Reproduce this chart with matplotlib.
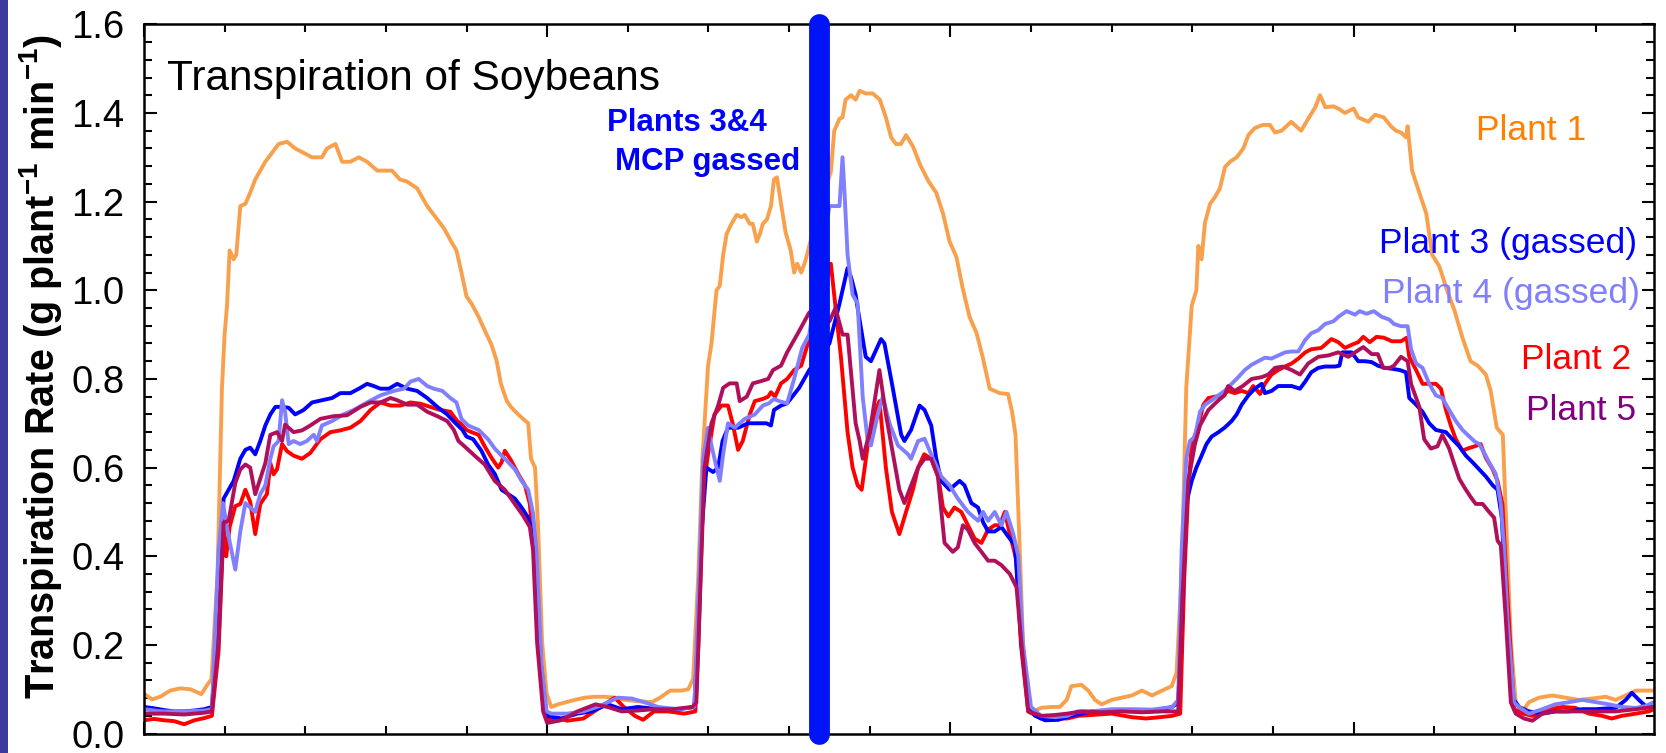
import numpy as np
import matplotlib
matplotlib.use('Agg')
import matplotlib.pyplot as plt
import matplotlib.ticker as mtick
from matplotlib.patches import Rectangle

plt.rcParams['font.family'] = 'Liberation Sans'
plt.rcParams['mathtext.fontset'] = 'custom'
plt.rcParams['mathtext.rm'] = 'Liberation Sans'
plt.rcParams['mathtext.bf'] = 'Liberation Sans:bold'
plt.rcParams['mathtext.default'] = 'regular'

# (hour, transpiration rate g plant^-1 min^-1)
plant1 = [(0, 0.09), (0.4, 0.077), (0.8, 0.083), (1.3, 0.097), (1.8, 0.102), (2.3, 0.10), (2.85, 0.089), (3.1, 0.107),
          (3.35, 0.123), (3.65, 0.36), (3.87, 0.78), (4.0, 0.90), (4.12, 0.965), (4.25, 1.09), (4.45, 1.07), (4.58, 1.08),
          (4.78, 1.19), (5.03, 1.195), (5.27, 1.22), (5.52, 1.25), (5.77, 1.27), (6.02, 1.29), (6.35, 1.31), (6.68, 1.33),
          (7.1, 1.335), (7.5, 1.32), (7.92, 1.31), (8.34, 1.30), (8.83, 1.30), (9.08, 1.32), (9.5, 1.33), (9.83, 1.29),
          (10.24, 1.29), (10.66, 1.30), (11.07, 1.29), (11.57, 1.27), (12.06, 1.27), (12.3, 1.27), (12.7, 1.25),
          (13.06, 1.245), (13.55, 1.23), (14.05, 1.19), (14.38, 1.17), (14.88, 1.14), (15.3, 1.105), (15.5, 1.09),
          (15.75, 1.04), (16.0, 0.986), (16.25, 0.97), (16.6, 0.94), (16.9, 0.91), (17.24, 0.877), (17.5, 0.84),
          (17.7, 0.79), (18.0, 0.75), (18.2, 0.737), (18.56, 0.72), (18.8, 0.71), (19.06, 0.70), (19.2, 0.62),
          (19.4, 0.60), (19.55, 0.466), (19.75, 0.206), (19.97, 0.09), (20.2, 0.06), (20.55, 0.066), (20.96, 0.071),
          (21.37, 0.076), (21.87, 0.081), (22.36, 0.083), (22.86, 0.083), (23.36, 0.081), (23.85, 0.076), (24.5, 0.073),
          (25.2, 0.071), (25.6, 0.081), (26.1, 0.097), (26.66, 0.097), (27.0, 0.10), (27.24, 0.123), (27.5, 0.36),
          (27.7, 0.62), (27.98, 0.83), (28.15, 0.88), (28.4, 1.0), (28.56, 1.01), (28.73, 1.08), (28.9, 1.127),
          (29.14, 1.15), (29.4, 1.17), (29.64, 1.165), (29.8, 1.17), (30.05, 1.15), (30.2, 1.15), (30.4, 1.11),
          (30.55, 1.127), (30.7, 1.15), (30.9, 1.16), (31.1, 1.19), (31.25, 1.25), (31.4, 1.255), (31.6, 1.195),
          (31.83, 1.13), (32.08, 1.09), (32.25, 1.04), (32.4, 1.06), (32.6, 1.04), (32.8, 1.065), (33.4, 1.17),
          (34.07, 1.267), (34.24, 1.36), (34.5, 1.387), (34.65, 1.39), (34.8, 1.43), (35.07, 1.44), (35.3, 1.43),
          (35.5, 1.45), (35.8, 1.444), (36.15, 1.444), (36.5, 1.43), (36.8, 1.39), (37.06, 1.345), (37.3, 1.33),
          (37.55, 1.33), (37.8, 1.35), (38.14, 1.325), (38.5, 1.283), (38.9, 1.247), (39.3, 1.22), (39.63, 1.174),
          (39.96, 1.11), (40.3, 1.075), (40.6, 1.007), (40.95, 0.94), (41.3, 0.903), (41.6, 0.85), (41.95, 0.778),
          (42.2, 0.773), (42.45, 0.768), (42.86, 0.766), (43.06, 0.726), (43.23, 0.674), (43.4, 0.466), (43.6, 0.206),
          (43.86, 0.071), (44.1, 0.05), (44.5, 0.058), (45.0, 0.06), (45.43, 0.06), (45.77, 0.076), (46.0, 0.107),
          (46.5, 0.11), (46.84, 0.097), (47.17, 0.076), (47.5, 0.066), (48.0, 0.076), (48.5, 0.081), (49.0, 0.086),
          (49.5, 0.097), (50.0, 0.086), (50.5, 0.097), (50.98, 0.107), (51.22, 0.138), (51.47, 0.36), (51.7, 0.78),
          (51.97, 0.965), (52.2, 1.0), (52.3, 1.10), (52.46, 1.07), (52.63, 1.153), (52.88, 1.195), (53.12, 1.21),
          (53.37, 1.23), (53.62, 1.278), (53.87, 1.29), (54.2, 1.30), (54.53, 1.32), (54.78, 1.35), (55.1, 1.366),
          (55.5, 1.373), (55.85, 1.373), (56.1, 1.356), (56.43, 1.36), (56.9, 1.38), (57.4, 1.36), (57.75, 1.387),
          (58.1, 1.413), (58.33, 1.44), (58.6, 1.413), (59.0, 1.415), (59.24, 1.41), (59.57, 1.40), (60.0, 1.41),
          (60.23, 1.39), (60.73, 1.38), (61.06, 1.396), (61.5, 1.39), (61.85, 1.37), (62.1, 1.36), (62.35, 1.356),
          (62.6, 1.345), (62.68, 1.37), (62.9, 1.27), (63.26, 1.22), (63.6, 1.174), (63.9, 1.08), (64.25, 1.054),
          (64.66, 0.997), (65.0, 0.955), (65.4, 0.893), (65.8, 0.84), (66.15, 0.83), (66.56, 0.81), (66.8, 0.773),
          (67.1, 0.69), (67.4, 0.674), (67.58, 0.466), (67.8, 0.206), (68.04, 0.071), (68.37, 0.05), (68.7, 0.071),
          (69.2, 0.081), (69.86, 0.086), (70.5, 0.081), (71.18, 0.076), (71.84, 0.079), (72.5, 0.083), (73.0, 0.076),
          (73.5, 0.086), (74.0, 0.097), (74.5, 0.097), (74.9, 0.097)]

plant2 = [(0, 0.03), (0.5, 0.033), (1.0, 0.03), (1.5, 0.028), (2.0, 0.021), (2.5, 0.03), (3.0, 0.035), (3.37, 0.04),
          (3.7, 0.185), (3.95, 0.466), (4.08, 0.40), (4.25, 0.466), (4.53, 0.513), (4.78, 0.518), (5.03, 0.55),
          (5.27, 0.523), (5.52, 0.45), (5.77, 0.518), (6.1, 0.54), (6.27, 0.61), (6.43, 0.585), (6.6, 0.596),
          (6.85, 0.653), (7.1, 0.637), (7.42, 0.627), (7.84, 0.62), (8.25, 0.633), (8.75, 0.664), (9.25, 0.68),
          (9.74, 0.684), (10.24, 0.69), (10.74, 0.705), (11.24, 0.73), (11.73, 0.747), (12.23, 0.74), (12.72, 0.74),
          (13.22, 0.747), (13.72, 0.744), (14.2, 0.737), (14.7, 0.73), (15.2, 0.726), (15.54, 0.705), (15.7, 0.70),
          (16.0, 0.685), (16.25, 0.68), (16.6, 0.674), (16.9, 0.648), (17.24, 0.622), (17.57, 0.60), (17.74, 0.612),
          (17.9, 0.638), (18.2, 0.617), (18.56, 0.586), (18.9, 0.56), (19.14, 0.518), (19.3, 0.435), (19.55, 0.258),
          (19.8, 0.07), (20.0, 0.03), (20.5, 0.035), (21.0, 0.029), (21.8, 0.034), (22.5, 0.055), (23.35, 0.081),
          (23.8, 0.06), (24.35, 0.04), (24.76, 0.031), (25.3, 0.05), (26.0, 0.05), (26.8, 0.045), (27.35, 0.05),
          (27.5, 0.2), (27.74, 0.55), (27.98, 0.63), (28.3, 0.72), (28.65, 0.74), (28.97, 0.74), (29.2, 0.70),
          (29.47, 0.64), (29.7, 0.66), (30.05, 0.72), (30.3, 0.75), (30.7, 0.755), (30.96, 0.76), (31.1, 0.77),
          (31.3, 0.76), (31.6, 0.79), (31.9, 0.80), (32.25, 0.82), (32.6, 0.83), (33.0, 0.89), (33.5, 0.98),
          (34.07, 1.06), (34.57, 0.85), (34.9, 0.68), (35.15, 0.60), (35.4, 0.56), (35.6, 0.55), (35.9, 0.65),
          (36.23, 0.72), (36.48, 0.75), (36.8, 0.60), (37.1, 0.50), (37.47, 0.45), (37.8, 0.50), (38.14, 0.55),
          (38.4, 0.60), (38.7, 0.63), (39.05, 0.62), (39.4, 0.58), (39.63, 0.51), (39.9, 0.49), (40.2, 0.51),
          (40.54, 0.50), (40.87, 0.47), (41.2, 0.44), (41.54, 0.43), (41.87, 0.46), (42.2, 0.47), (42.45, 0.47),
          (42.7, 0.50), (42.95, 0.45), (43.28, 0.39), (43.5, 0.20), (43.86, 0.05), (44.5, 0.034), (45.2, 0.034),
          (45.8, 0.034), (46.35, 0.04), (47.0, 0.042), (48.0, 0.045), (49.0, 0.037), (49.7, 0.034), (50.4, 0.037),
          (51.0, 0.04), (51.4, 0.045), (51.6, 0.35), (51.8, 0.55), (51.97, 0.653), (52.3, 0.695), (52.55, 0.742),
          (52.8, 0.757), (53.12, 0.76), (53.45, 0.763), (53.78, 0.773), (54.1, 0.768), (54.45, 0.773), (54.78, 0.768),
          (55.02, 0.784), (55.36, 0.766), (55.6, 0.789), (55.93, 0.81), (56.26, 0.82), (56.6, 0.828), (56.93, 0.835),
          (57.26, 0.846), (57.6, 0.86), (57.9, 0.867), (58.4, 0.87), (58.9, 0.89), (59.24, 0.883), (59.57, 0.87),
          (59.9, 0.877), (60.23, 0.883), (60.48, 0.895), (60.8, 0.883), (61.14, 0.895), (61.5, 0.893), (61.9, 0.885),
          (62.35, 0.885), (62.63, 0.893), (62.76, 0.85), (63.1, 0.82), (63.42, 0.789), (63.75, 0.789), (64.08, 0.789),
          (64.33, 0.778), (64.58, 0.73), (64.82, 0.695), (65.07, 0.664), (65.4, 0.638), (65.65, 0.643), (66.0, 0.648),
          (66.3, 0.653), (66.56, 0.622), (66.9, 0.596), (67.14, 0.57), (67.38, 0.518), (67.63, 0.31), (67.96, 0.055),
          (68.4, 0.045), (68.87, 0.04), (69.7, 0.055), (70.35, 0.06), (71.0, 0.058), (71.67, 0.045), (72.33, 0.04),
          (72.8, 0.034), (73.3, 0.04), (74.0, 0.045), (74.64, 0.05), (74.9, 0.055)]

plant3 = [(0, 0.06), (0.5, 0.057), (1.0, 0.053), (1.5, 0.05), (2.0, 0.05), (2.5, 0.052), (3.0, 0.055), (3.37, 0.06),
          (3.7, 0.26), (3.95, 0.53), (4.2, 0.55), (4.45, 0.57), (4.78, 0.62), (5.03, 0.64), (5.27, 0.645), (5.52, 0.63),
          (5.77, 0.66), (6.02, 0.695), (6.27, 0.72), (6.52, 0.737), (6.85, 0.737), (7.18, 0.735), (7.5, 0.72),
          (7.92, 0.73), (8.34, 0.747), (8.83, 0.752), (9.33, 0.757), (9.74, 0.768), (10.24, 0.768), (10.66, 0.778),
          (11.07, 0.789), (11.4, 0.784), (11.73, 0.778), (12.15, 0.778), (12.56, 0.789), (13.06, 0.778), (13.55, 0.773),
          (14.05, 0.757), (14.55, 0.737), (15.04, 0.72), (15.46, 0.70), (15.8, 0.685), (16.0, 0.67), (16.33, 0.664),
          (16.74, 0.638), (17.07, 0.607), (17.4, 0.586), (17.74, 0.55), (18.07, 0.54), (18.4, 0.53), (18.73, 0.51),
          (19.06, 0.487), (19.3, 0.445), (19.47, 0.36), (19.7, 0.154), (19.97, 0.04), (20.7, 0.034), (21.5, 0.045),
          (22.2, 0.05), (23.0, 0.066), (23.7, 0.055), (24.5, 0.06), (25.5, 0.055), (26.5, 0.055), (27.3, 0.06),
          (27.45, 0.2), (27.65, 0.45), (27.9, 0.60), (28.23, 0.59), (28.48, 0.60), (28.7, 0.66), (28.97, 0.69),
          (29.47, 0.69), (29.97, 0.70), (30.46, 0.70), (30.87, 0.70), (31.1, 0.695), (31.25, 0.73), (31.6, 0.74),
          (31.9, 0.745), (32.5, 0.78), (33.0, 0.82), (33.5, 0.85), (34.0, 0.88), (34.5, 0.97), (34.9, 1.05),
          (35.07, 1.03), (35.3, 0.99), (35.4, 0.96), (35.8, 0.85), (36.06, 0.84), (36.56, 0.89), (36.73, 0.88),
          (37.14, 0.78), (37.56, 0.674), (37.72, 0.66), (38.05, 0.685), (38.47, 0.74), (38.72, 0.73), (39.05, 0.695),
          (39.3, 0.62), (39.55, 0.57), (39.96, 0.55), (40.2, 0.56), (40.46, 0.57), (40.7, 0.56), (41.04, 0.52),
          (41.37, 0.51), (41.62, 0.477), (41.87, 0.456), (42.2, 0.456), (42.53, 0.466), (42.86, 0.445), (43.2, 0.425),
          (43.53, 0.2), (43.9, 0.06), (44.2, 0.04), (44.7, 0.03), (45.35, 0.031), (46.0, 0.04), (46.5, 0.045),
          (47.0, 0.05), (48.0, 0.05), (49.0, 0.052), (50.0, 0.05), (51.0, 0.06), (51.3, 0.07), (51.47, 0.26),
          (51.7, 0.52), (51.97, 0.57), (52.2, 0.60), (52.46, 0.627), (52.7, 0.653), (52.96, 0.67), (53.3, 0.68),
          (53.6, 0.69), (53.95, 0.705), (54.2, 0.72), (54.45, 0.742), (54.78, 0.763), (55.1, 0.778), (55.44, 0.789),
          (55.6, 0.768), (55.93, 0.773), (56.26, 0.784), (56.6, 0.784), (56.93, 0.784), (57.34, 0.778), (57.6, 0.794),
          (57.9, 0.815), (58.25, 0.825), (58.58, 0.828), (59.07, 0.828), (59.3, 0.83), (59.44, 0.86), (59.9, 0.86),
          (60.23, 0.84), (60.56, 0.84), (60.9, 0.838), (61.2, 0.83), (61.55, 0.825), (61.9, 0.823), (62.3, 0.82),
          (62.6, 0.815), (62.76, 0.757), (63.1, 0.742), (63.42, 0.726), (63.75, 0.70), (64.08, 0.685), (64.58, 0.68),
          (64.9, 0.664), (65.24, 0.648), (65.57, 0.627), (65.9, 0.612), (66.23, 0.596), (66.56, 0.58), (66.9, 0.56),
          (67.14, 0.55), (67.35, 0.487), (67.55, 0.31), (67.88, 0.081), (68.2, 0.06), (68.7, 0.05), (69.36, 0.045),
          (70.0, 0.05), (70.7, 0.05), (71.34, 0.055), (72.0, 0.055), (73.0, 0.058), (73.5, 0.076), (73.8, 0.092),
          (74.15, 0.076), (74.48, 0.062), (74.9, 0.06)]

plant4 = [(0, 0.055), (0.5, 0.052), (1.0, 0.05), (2.0, 0.05), (3.0, 0.052), (3.37, 0.055), (3.7, 0.41), (3.92, 0.52),
          (4.15, 0.456), (4.53, 0.37), (4.78, 0.456), (5.03, 0.52), (5.27, 0.51), (5.52, 0.50), (5.77, 0.54),
          (6.02, 0.56), (6.27, 0.62), (6.43, 0.648), (6.68, 0.66), (6.85, 0.752), (7.0, 0.726), (7.18, 0.653),
          (7.42, 0.66), (7.75, 0.653), (8.08, 0.66), (8.42, 0.674), (8.58, 0.66), (8.83, 0.695), (9.33, 0.705),
          (9.9, 0.72), (10.4, 0.73), (11.07, 0.747), (11.73, 0.763), (12.4, 0.773), (12.9, 0.778), (13.22, 0.794),
          (13.63, 0.80), (14.05, 0.784), (14.38, 0.778), (14.8, 0.773), (15.2, 0.757), (15.5, 0.747), (15.75, 0.71),
          (16.08, 0.695), (16.6, 0.685), (17.07, 0.664), (17.4, 0.643), (17.74, 0.627), (18.07, 0.612), (18.4, 0.596),
          (18.73, 0.57), (19.06, 0.55), (19.3, 0.497), (19.47, 0.414), (19.72, 0.154), (19.97, 0.05), (20.2, 0.045),
          (21.0, 0.045), (21.8, 0.05), (22.6, 0.062), (23.5, 0.081), (24.2, 0.079), (24.8, 0.071), (25.5, 0.06),
          (26.5, 0.055), (27.3, 0.06), (27.5, 0.30), (27.74, 0.62), (27.98, 0.69), (28.15, 0.65), (28.4, 0.60),
          (28.56, 0.57), (28.73, 0.63), (28.97, 0.70), (29.3, 0.69), (29.8, 0.71), (30.3, 0.72), (30.7, 0.74),
          (31.0, 0.745), (31.25, 0.755), (31.5, 0.75), (31.9, 0.745), (32.25, 0.80), (32.65, 0.87), (33.0, 0.90),
          (33.5, 1.05), (34.0, 1.19), (34.5, 1.19), (34.65, 1.30), (34.75, 1.22), (34.9, 1.08), (35.15, 0.99),
          (35.4, 0.97), (35.65, 0.76), (35.9, 0.66), (36.06, 0.65), (36.4, 0.72), (36.65, 0.76), (36.98, 0.70),
          (37.4, 0.65), (37.9, 0.63), (38.05, 0.62), (38.4, 0.66), (38.72, 0.665), (39.14, 0.62), (39.55, 0.58),
          (39.96, 0.56), (40.37, 0.53), (40.87, 0.50), (41.37, 0.48), (41.62, 0.50), (41.87, 0.48), (42.2, 0.50),
          (42.53, 0.47), (42.78, 0.50), (43.12, 0.45), (43.37, 0.40), (43.6, 0.2), (44.0, 0.06), (44.5, 0.04),
          (45.2, 0.037), (45.8, 0.04), (46.3, 0.05), (47.0, 0.05), (48.0, 0.055), (49.0, 0.055), (50.0, 0.054),
          (51.0, 0.06), (51.3, 0.076), (51.47, 0.414), (51.7, 0.62), (51.88, 0.66), (52.13, 0.67), (52.38, 0.726),
          (52.63, 0.742), (52.96, 0.752), (53.3, 0.763), (53.6, 0.773), (53.95, 0.789), (54.28, 0.804), (54.6, 0.82),
          (54.94, 0.832), (55.27, 0.84), (55.6, 0.848), (55.93, 0.846), (56.26, 0.853), (56.6, 0.86), (56.93, 0.862),
          (57.26, 0.862), (57.6, 0.888), (57.9, 0.903), (58.25, 0.91), (58.58, 0.924), (59.0, 0.93), (59.24, 0.94),
          (59.65, 0.953), (60.07, 0.945), (60.3, 0.953), (60.64, 0.947), (61.0, 0.953), (61.4, 0.94), (61.77, 0.934),
          (62.0, 0.924), (62.35, 0.919), (62.68, 0.919), (62.85, 0.867), (63.1, 0.835), (63.42, 0.825), (63.75, 0.789),
          (64.08, 0.763), (64.4, 0.757), (64.74, 0.73), (65.07, 0.705), (65.4, 0.685), (65.65, 0.674), (66.0, 0.659),
          (66.23, 0.653), (66.48, 0.633), (66.72, 0.612), (67.05, 0.586), (67.3, 0.518), (67.47, 0.414), (67.63, 0.258),
          (67.96, 0.07), (68.2, 0.06), (68.7, 0.045), (69.36, 0.055), (70.0, 0.066), (70.7, 0.071), (71.34, 0.076),
          (72.0, 0.071), (72.66, 0.066), (73.3, 0.06), (74.0, 0.058), (74.48, 0.062), (74.9, 0.071)]

plant5 = [(0, 0.045), (1.0, 0.045), (2.0, 0.043), (3.0, 0.047), (3.37, 0.05), (3.7, 0.206), (3.95, 0.476), (4.2, 0.48),
          (4.53, 0.565), (4.78, 0.596), (5.03, 0.607), (5.27, 0.60), (5.52, 0.54), (5.77, 0.575), (6.02, 0.61),
          (6.27, 0.674), (6.6, 0.68), (6.85, 0.66), (7.0, 0.697), (7.42, 0.68), (7.84, 0.684), (8.25, 0.695),
          (8.75, 0.71), (9.41, 0.716), (10.07, 0.718), (10.74, 0.737), (11.24, 0.747), (11.73, 0.747), (12.23, 0.757),
          (12.56, 0.752), (13.06, 0.742), (13.55, 0.742), (14.05, 0.726), (14.55, 0.716), (15.04, 0.705), (15.37, 0.685),
          (15.6, 0.66), (15.9, 0.648), (16.4, 0.627), (16.9, 0.607), (17.4, 0.57), (17.9, 0.55), (18.4, 0.518),
          (18.8, 0.492), (19.14, 0.466), (19.3, 0.414), (19.5, 0.206), (19.8, 0.05), (20.0, 0.024), (20.7, 0.03),
          (21.5, 0.05), (22.4, 0.066), (23.0, 0.06), (23.7, 0.05), (24.5, 0.052), (25.3, 0.055), (26.2, 0.055),
          (27.2, 0.06), (27.4, 0.07), (27.5, 0.2), (27.8, 0.6), (28.15, 0.70), (28.48, 0.74), (28.73, 0.78),
          (29.05, 0.79), (29.4, 0.79), (29.55, 0.75), (29.9, 0.76), (30.2, 0.79), (30.6, 0.795), (30.96, 0.80),
          (31.2, 0.82), (31.6, 0.83), (31.9, 0.86), (32.4, 0.90), (33.0, 0.95), (33.5, 0.96), (34.0, 0.93),
          (34.3, 0.96), (34.65, 0.90), (34.9, 0.90), (35.3, 0.70), (35.5, 0.66), (35.65, 0.62), (36.0, 0.68),
          (36.48, 0.82), (36.8, 0.72), (37.47, 0.55), (37.72, 0.52), (37.97, 0.55), (38.4, 0.60), (38.72, 0.62),
          (39.05, 0.62), (39.38, 0.58), (39.71, 0.43), (40.12, 0.41), (40.37, 0.42), (40.62, 0.47), (40.87, 0.46),
          (41.2, 0.43), (41.54, 0.41), (41.87, 0.39), (42.2, 0.39), (42.53, 0.38), (42.95, 0.36), (43.28, 0.33),
          (43.53, 0.2), (43.86, 0.05), (44.5, 0.04), (45.2, 0.042), (45.8, 0.045), (46.5, 0.05), (47.5, 0.048),
          (48.5, 0.05), (49.5, 0.048), (50.5, 0.05), (51.3, 0.05), (51.5, 0.3), (51.8, 0.57), (52.13, 0.653),
          (52.38, 0.695), (52.8, 0.73), (53.3, 0.752), (53.6, 0.763), (53.78, 0.784), (54.1, 0.773), (54.5, 0.784),
          (54.94, 0.80), (55.44, 0.804), (55.77, 0.81), (56.1, 0.825), (56.5, 0.828), (56.93, 0.82), (57.34, 0.81),
          (57.75, 0.835), (58.25, 0.85), (58.74, 0.853), (59.24, 0.86), (59.74, 0.85), (60.07, 0.86), (60.48, 0.872),
          (60.9, 0.856), (61.2, 0.856), (61.47, 0.825), (61.8, 0.825), (62.0, 0.83), (62.35, 0.85), (62.68, 0.84),
          (62.85, 0.789), (63.1, 0.757), (63.26, 0.737), (63.5, 0.664), (63.83, 0.643), (64.16, 0.648), (64.4, 0.674),
          (64.74, 0.643), (65.0, 0.607), (65.24, 0.575), (65.5, 0.555), (65.8, 0.534), (66.06, 0.518), (66.4, 0.518),
          (66.72, 0.50), (66.97, 0.487), (67.14, 0.435), (67.3, 0.425), (67.55, 0.258), (67.8, 0.07), (68.04, 0.045),
          (68.45, 0.034), (68.87, 0.029), (69.36, 0.045), (70.0, 0.05), (71.0, 0.05), (72.0, 0.05), (73.0, 0.05),
          (74.0, 0.055), (74.9, 0.06)]

gassing_hour = 33.46

series = [
    (plant1, '#F9A04C', 'Plant 1', '#FF8000'),
    (plant2, '#FF0000', 'Plant 2', '#FF0000'),
    (plant3, '#0000FF', 'Plant 3 (gassed)', '#0000FF'),
    (plant4, '#8080FF', 'Plant 4 (gassed)', '#8080FF'),
    (plant5, '#B0105A', 'Plant 5', '#800080'),
]

fig = plt.figure(figsize=(16.66, 7.53), dpi=100)
ax = fig.add_axes([0.0864, 0.0258, 0.9064, 0.9419])

for data, color, _, _ in series:
    t, v = np.array(data).T
    ax.plot(t, v, color=color, lw=2.8, solid_joinstyle='round')

# MCP gassing marker
ax.plot([gassing_hour, gassing_hour], [0, 1.6], color='#0014F5', lw=15,
        solid_capstyle='round', clip_on=False, zorder=5)

ax.set_xlim(0, 74.9)
ax.set_ylim(0, 1.6)
ax.xaxis.set_major_locator(mtick.MultipleLocator(20))
ax.xaxis.set_minor_locator(mtick.MultipleLocator(4))
ax.yaxis.set_major_locator(mtick.MultipleLocator(0.2))
ax.yaxis.set_minor_locator(mtick.MultipleLocator(0.04))
ax.yaxis.set_major_formatter(mtick.FormatStrFormatter('%.1f'))
ax.tick_params(which='both', direction='in', top=True, right=True, width=1.5)
ax.tick_params(which='major', length=9)
ax.tick_params(which='minor', length=5.5)
ax.tick_params(axis='y', labelsize=27.5, pad=14)
ax.tick_params(axis='x', labelbottom=False)
for s in ax.spines.values():
    s.set_linewidth(1.8)

fig.text(41 / 1666, 1 - 366 / 753, r'Transpiration Rate (g plant$^{-1}$ min$^{-1}$)',
         rotation=90, ha='center', va='center', fontsize=28.5, fontweight='bold')

ax.text(0.0152, 0.9074, 'Transpiration of Soybeans', transform=ax.transAxes,
        fontsize=30.5, va='baseline', ha='left')
ax.text(0.3068, 0.8604, 'Plants 3&4', transform=ax.transAxes, fontsize=22.5,
        fontweight='bold', color='#0000FF', va='center', ha='left')
ax.text(0.3119, 0.8063, 'MCP gassed', transform=ax.transAxes, fontsize=22.5,
        fontweight='bold', color='#0000FF', va='center', ha='left')

label_pos = {'Plant 1': (0.955, 0.850), 'Plant 3 (gassed)': (0.989, 0.691),
             'Plant 4 (gassed)': (0.991, 0.620), 'Plant 2': (0.985, 0.528),
             'Plant 5': (0.988, 0.455)}
for _, _, name, tcolor in series:
    x, y = label_pos[name]
    ax.text(x, y, name, transform=ax.transAxes, fontsize=25.5, color=tcolor,
            ha='right', va='center')

# dark strip on the left edge of the slide
fig.add_artist(Rectangle((0, 0), 8 / 1666, 1, transform=fig.transFigure,
                         color='#3B3A9C', lw=0))

fig.savefig('out.png', dpi=100)
